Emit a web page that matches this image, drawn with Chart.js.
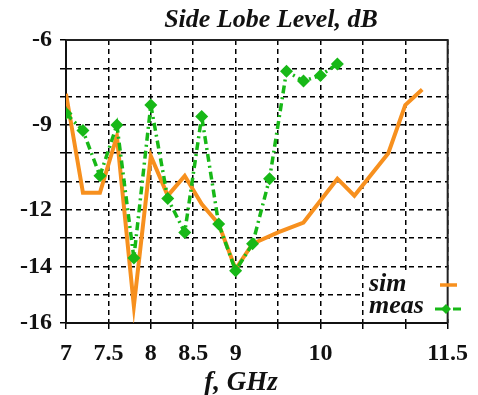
<!DOCTYPE html>
<html>
<head>
<meta charset="utf-8">
<script src="https://cdn.jsdelivr.net/npm/chart.js@4"></script>
<style>
  html, body { margin: 0; padding: 0; background: #fff; }
  canvas { display: block; }
</style>
</head>
<body>
<canvas id="slChart" width="478" height="395"></canvas>
<script>
// frequency, GHz
const simX = [7.0, 7.2, 7.4, 7.6, 7.8, 8.0, 8.2, 8.4, 8.6, 8.8, 9.0, 9.2, 9.5, 9.8, 10.2, 10.4, 10.8, 11.0, 11.2];
const simY = [-7.9, -11.4, -11.4, -9.4, -15.4, -10.1, -11.5, -10.8, -11.8, -12.5, -14.1, -13.2, -12.8, -12.45, -10.9, -11.5, -10.0, -8.3, -7.75];

const measX = [7.0, 7.2, 7.4, 7.6, 7.8, 8.0, 8.2, 8.4, 8.6, 8.8, 9.0, 9.2, 9.4, 9.6, 9.8, 10.0, 10.2];
const measY = [-8.6, -9.2, -10.8, -9.0, -13.7, -8.3, -11.6, -12.8, -8.7, -12.5, -14.15, -13.2, -10.9, -7.1, -7.45, -7.25, -6.85];

const xTickLabels = [7, 7.5, 8, 8.5, 9, 10, 11.5];
const yTickLabels = [-6, -9, -12, -14, -16];

const ORANGE = '#f7901e';
const GREEN = '#17b817';
const serif = "'Liberation Serif', 'Times New Roman', serif";

const toPoints = (xs, ys) => xs.map((x, i) => ({ x: x, y: ys[i] }));

// judul, rand kotak plot, legenda, judul sumbu x
const extras = {
  id: 'extras',
  beforeDatasetsDraw(chart) {
    const ctx = chart.ctx;
    ctx.save();
    ctx.fillStyle = '#fff';
    ctx.fillRect(364, 272, 104, 46);
    ctx.restore();
  },
  afterDatasetsDraw(chart) {
    const ctx = chart.ctx;
    const a = chart.chartArea;
    ctx.save();
    ctx.strokeStyle = '#222';
    ctx.lineWidth = 2;
    ctx.beginPath();
    ctx.moveTo(a.left, a.top);
    ctx.lineTo(a.right, a.top);
    ctx.lineTo(a.right, a.bottom);
    ctx.stroke();

    ctx.fillStyle = '#111';
    ctx.textAlign = 'center';
    ctx.textBaseline = 'alphabetic';
    ctx.font = "italic bold 26px " + serif;
    ctx.fillText('Side Lobe Level, dB', 271, 27);

    // legend
    ctx.font = "italic bold 26px " + serif;
    ctx.textAlign = 'left';
    ctx.fillText('sim', 369, 291);
    ctx.fillText('meas', 369, 313);

    ctx.strokeStyle = ORANGE;
    ctx.lineWidth = 3.5;
    ctx.beginPath();
    ctx.moveTo(440, 285);
    ctx.lineTo(457, 285);
    ctx.stroke();

    ctx.strokeStyle = GREEN;
    ctx.lineWidth = 3;
    ctx.setLineDash([8, 4, 2, 4]);
    ctx.beginPath();
    ctx.moveTo(435, 309);
    ctx.lineTo(462, 309);
    ctx.stroke();
    ctx.setLineDash([]);
    ctx.fillStyle = GREEN;
    ctx.beginPath();
    ctx.moveTo(441, 309);
    ctx.lineTo(446, 304);
    ctx.lineTo(451, 309);
    ctx.lineTo(446, 314);
    ctx.closePath();
    ctx.fill();

    // x axis title
    ctx.fillStyle = '#111';
    ctx.font = "italic bold 27px " + serif;
    ctx.textAlign = 'center';
    ctx.fillText('f, GHz', 241, 390);
    ctx.restore();
  }
};

const ctx = document.getElementById('slChart').getContext('2d');
const slChart = new Chart(ctx, {
  type: 'line',
  data: {
    datasets: [
      {
        label: 'meas',
        data: toPoints(measX, measY),
        borderColor: GREEN,
        backgroundColor: GREEN,
        borderWidth: 3.5,
        borderDash: [8, 4, 2, 4],
        pointStyle: 'rectRot',
        pointRadius: 6.5,
        pointBorderWidth: 0,
        order: 0
      },
      {
        label: 'sim',
        data: toPoints(simX, simY),
        borderColor: ORANGE,
        backgroundColor: ORANGE,
        borderWidth: 4,
        pointRadius: 0,
        order: 1
      }
    ]
  },
  options: {
    responsive: false,
    animation: false,
    devicePixelRatio: 1,
    layout: { padding: { right: 5, left: 0, top: 40, bottom: 0 } },
    plugins: {
      legend: { display: false },
      tooltip: { enabled: false },
      title: { display: false }
    },
    scales: {
      x: {
        type: 'linear',
        min: 7,
        max: 11.5,
        afterFit: (s) => { s.height = 72; },
        ticks: {
          stepSize: 0.5,
          autoSkip: false,
          maxRotation: 0,
          padding: 10,
          color: '#111',
          font: { family: serif, size: 24, weight: 'bold' },
          callback: (v) => xTickLabels.includes(v) ? String(v) : ''
        },
        grid: {
          color: '#000',
          lineWidth: 1.5,
          tickLength: 6,
          tickColor: '#000',
          tickWidth: 1.5
        },
        border: { display: true, color: '#111', width: 2, dash: [5, 4] }
      },
      y: {
        type: 'linear',
        min: -16,
        max: -6,
        afterFit: (s) => { s.width = 66; },
        ticks: {
          stepSize: 1,
          autoSkip: false,
          padding: 8,
          color: '#111',
          font: { family: serif, size: 24, weight: 'bold' },
          callback: (v) => yTickLabels.includes(v) ? String(v) : ''
        },
        grid: {
          color: '#000',
          lineWidth: 1.5,
          tickLength: 6,
          tickColor: '#000',
          tickWidth: 1.5
        },
        border: { display: true, color: '#111', width: 2, dash: [5, 4] }
      }
    }
  },
  plugins: [extras]
});
</script>
</body>
</html>
